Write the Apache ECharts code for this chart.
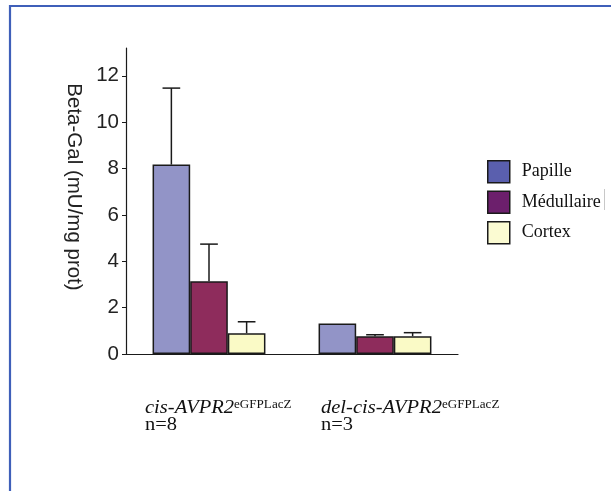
<!DOCTYPE html>
<html><head><meta charset="utf-8">
<script src="https://cdn.jsdelivr.net/npm/echarts@6/dist/echarts.min.js"></script>
<style>html,body{margin:0;padding:0;background:#fff}#c{width:611px;height:491px}</style>
</head><body><div id="c"></div>
<script>
// ---- data ----
const categories = ['cis', 'del'];
const categoryMain = ['cis-AVPR2', 'del-cis-AVPR2'];
const categorySup = ['eGFPLacZ', 'eGFPLacZ'];
const categoryN = ['n=8', 'n=3'];
const seriesNames = ['Papille', 'Médullaire', 'Cortex'];
const papille = [8.17, 1.32];
const papilleErr = [3.30, 0];
const medullaire = [3.14, 0.77];
const medullaireErr = [1.60, 0.06];
const cortex = [0.90, 0.77];
const cortexErr = [0.49, 0.15];
const yTicks = [0, 2, 4, 6, 8, 10, 12];
const yTitle = 'Beta-Gal (mU/mg prot)';

// ---- style ----
const barColors = ['#9294c7', '#8e2c5c', '#fafac6'];
const legendColors = ['#5a5fae', '#6c1f6c', '#fbfbd2'];
const GAP = 0.32;
const ink = '#1a1a1a';

const chart = echarts.init(document.getElementById('c'), null, {renderer: 'canvas'});

function errSeries(idx, vals, errs) {
  return {
    type: 'custom', name: seriesNames[idx] + ' err', silent: true, z: 5,
    data: vals.map((v, i) => [i, v, v + errs[i]]),
    encode: {x: 0, y: 1},
    renderItem(params, api) {
      const i = api.value(0), lo = api.value(1), hi = api.value(2);
      if (hi - lo <= 0) return null;
      const catW = api.size([1, 0])[0];
      const barW = catW * (1 - GAP) / 3;
      const c = api.coord([i, lo]);
      const t = api.coord([i, hi]);
      const x = c[0] + (idx - 1) * barW;
      const cap = barW * 0.47;
      return {type: 'group', children: [
        {type: 'line', shape: {x1: x, y1: c[1], x2: x, y2: t[1]}, style: {stroke: ink, lineWidth: 1.5}},
        {type: 'line', shape: {x1: x - cap / 2, y1: t[1], x2: x + cap / 2, y2: t[1]}, style: {stroke: ink, lineWidth: 1.5}}
      ]};
    }
  };
}

const values = [papille, medullaire, cortex];
const errs = [papilleErr, medullaireErr, cortexErr];

const option = {
  animation: false,
  backgroundColor: '#fff',
  grid: {left: 126, top: 48, width: 332, height: 306, containLabel: false},
  legend: {
    orient: 'vertical', left: 487, top: 160, padding: 0, itemWidth: 22, itemHeight: 22, itemGap: 7,
    icon: 'rect', selectedMode: false,
    textStyle: {fontFamily: 'Liberation Serif', fontSize: 18, color: '#111', padding: [0, 0, 0, 7]},
    data: seriesNames.map((n, i) => ({name: n, itemStyle: {color: legendColors[i], borderColor: ink, borderWidth: 1.5}}))
  },
  xAxis: {
    type: 'category', data: categories, boundaryGap: true,
    axisLine: {lineStyle: {color: ink, width: 1.2}},
    axisTick: {length: 3, lineStyle: {color: ink}},
    axisLabel: {show: false}
  },
  yAxis: {
    type: 'value', min: 0, max: 13.2, interval: 2,
    name: yTitle, nameLocation: 'middle', nameRotate: -90, nameGap: 42,
    nameTextStyle: {fontFamily: 'Liberation Sans', fontSize: 20.5, color: '#222', padding: [0, 28, 0, 0]},
    axisLine: {show: true, lineStyle: {color: ink, width: 1.2}},
    axisTick: {show: true, length: 4, lineStyle: {color: ink}, customValues: yTicks},
    axisLabel: {fontFamily: 'Liberation Sans', fontSize: 20.5, color: '#222', margin: 7, customValues: yTicks},
    splitLine: {show: false}
  },
  series: [
    ...values.map((v, i) => ({
      type: 'bar', name: seriesNames[i], data: v, barGap: '0%', barCategoryGap: (GAP * 100) + '%',
      itemStyle: {color: barColors[i], borderColor: ink, borderWidth: 1.5}
    })),
    ...values.map((v, i) => errSeries(i, v, errs[i]))
  ],
  graphic: [
    {type: 'polyline', id: 'frame', silent: true, shape: {points: [[10, 491], [10, 6], [611, 6]]},
     style: {stroke: '#3f5fb9', lineWidth: 2.2, fill: null}},
    {type: 'line', id: 'artifact', silent: true, shape: {x1: 604.5, y1: 189, x2: 604.5, y2: 210},
     style: {stroke: '#c8c8c8', lineWidth: 1}}
  ]
};
chart.setOption(option);

const labelOffsets = [-64, -54];
const py0 = chart.convertToPixel({yAxisIndex: 0}, 0);
const labelGraphics = categories.map((c, i) => {
  const px = chart.convertToPixel({xAxisIndex: 0}, c);
  return {
    type: 'text', id: 'xl' + i, silent: true, x: px + labelOffsets[i], y: py0 + 45,
    scaleX: 1.14, scaleY: 1,
    style: {
      text: '{m|' + categoryMain[i] + '}{s|' + categorySup[i] + '}\n{n|' + categoryN[i] + '}',
      align: 'left', verticalAlign: 'top', textAlign: 'left', textVerticalAlign: 'top',
      fill: '#111', fontFamily: 'Liberation Serif', fontSize: 18,
      rich: {
        m: {fontFamily: 'Liberation Serif', fontStyle: 'italic', fontSize: 18, lineHeight: 19, fill: '#111', color: '#111'},
        s: {fontFamily: 'Liberation Serif', fontSize: 11.5, lineHeight: 11, verticalAlign: 'top', fill: '#111', color: '#111'},
        n: {fontFamily: 'Liberation Serif', fontSize: 18, lineHeight: 14, fill: '#111', color: '#111'}
      }
    }
  };
});
chart.setOption({graphic: labelGraphics});
</script></body></html>
